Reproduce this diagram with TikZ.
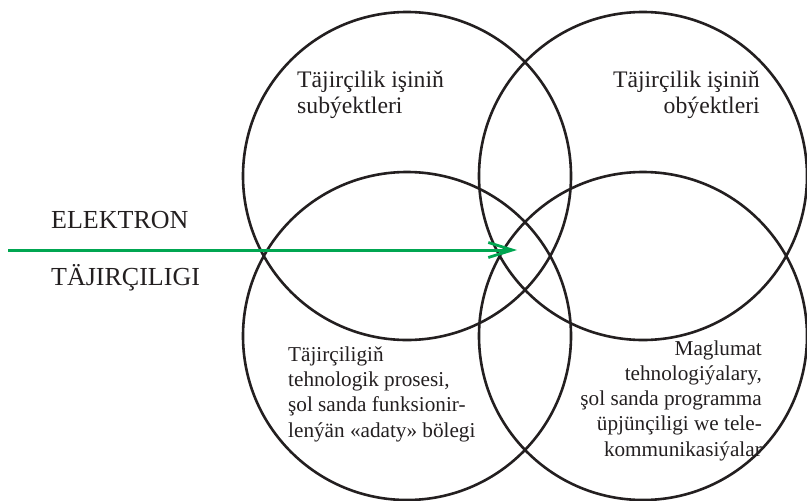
\documentclass[tikz,border=0pt]{standalone}
\usepackage{fontspec}
\setmainfont{Liberation Serif}
\usetikzlibrary{arrows.meta}
\definecolor{ink}{HTML}{231F20}
\definecolor{arrowgreen}{HTML}{00A651}
\tikzset{
  venn/.style={circle, draw=ink, line width=2.6pt, minimum size=328pt, inner sep=0pt},
  lbl/.style={text=ink, inner sep=0pt, font=\fontsize{23.7}{26.5}\selectfont},
  lbltight/.style={text=ink, inner sep=0pt, font=\fontsize{21.2}{25.2}\selectfont},
  biglbl/.style={text=ink, inner sep=0pt, font=\fontsize{26}{30}\selectfont},
  flow/.style={draw=arrowgreen, line width=3pt, -{Straight Barb[length=24pt, width=15pt, line width=2.8pt]}}
}
\begin{document}
\begin{tikzpicture}[x=1pt, y=-1pt]
\useasboundingbox (0,0) rectangle (807,501);
\node[venn] (tl) at (407,176) {};
\node[venn] (tr) at (643,176) {};
\node[venn] (bl) at (407,336) {};
\node[venn] (br) at (643,336) {};
\node[biglbl, anchor=base west] (el) at (51,228) {ELEKTRON};
\node[biglbl, anchor=base west] (tj) at (51,285) {TÄJIRÇILIGI};
\coordinate (start) at (8,250);
\coordinate (tip) at (517,250);
\draw[flow] (start) -- (tip);
\node[lbl, anchor=base west, align=left] (subj) at (297,113.5) {Täjirçilik işiniň\\subýektleri};
\node[lbl, anchor=base east, align=right] (obj) at (760,113.5) {Täjirçilik işiniň\\obýektleri};
\node[lbltight, anchor=base west, align=left] (proc) at (288,437) {Täjirçiligiň\\tehnologik prosesi,\\şol sanda funksionir-\\lenýän «adaty» bölegi};
\node[lbltight, anchor=base east, align=right] (it) at (762,456) {Maglumat\\tehnologiýalary,\\şol sanda programma\\üpjünçiligi we tele-\\kommunikasiýalar};
\end{tikzpicture}
\end{document}
